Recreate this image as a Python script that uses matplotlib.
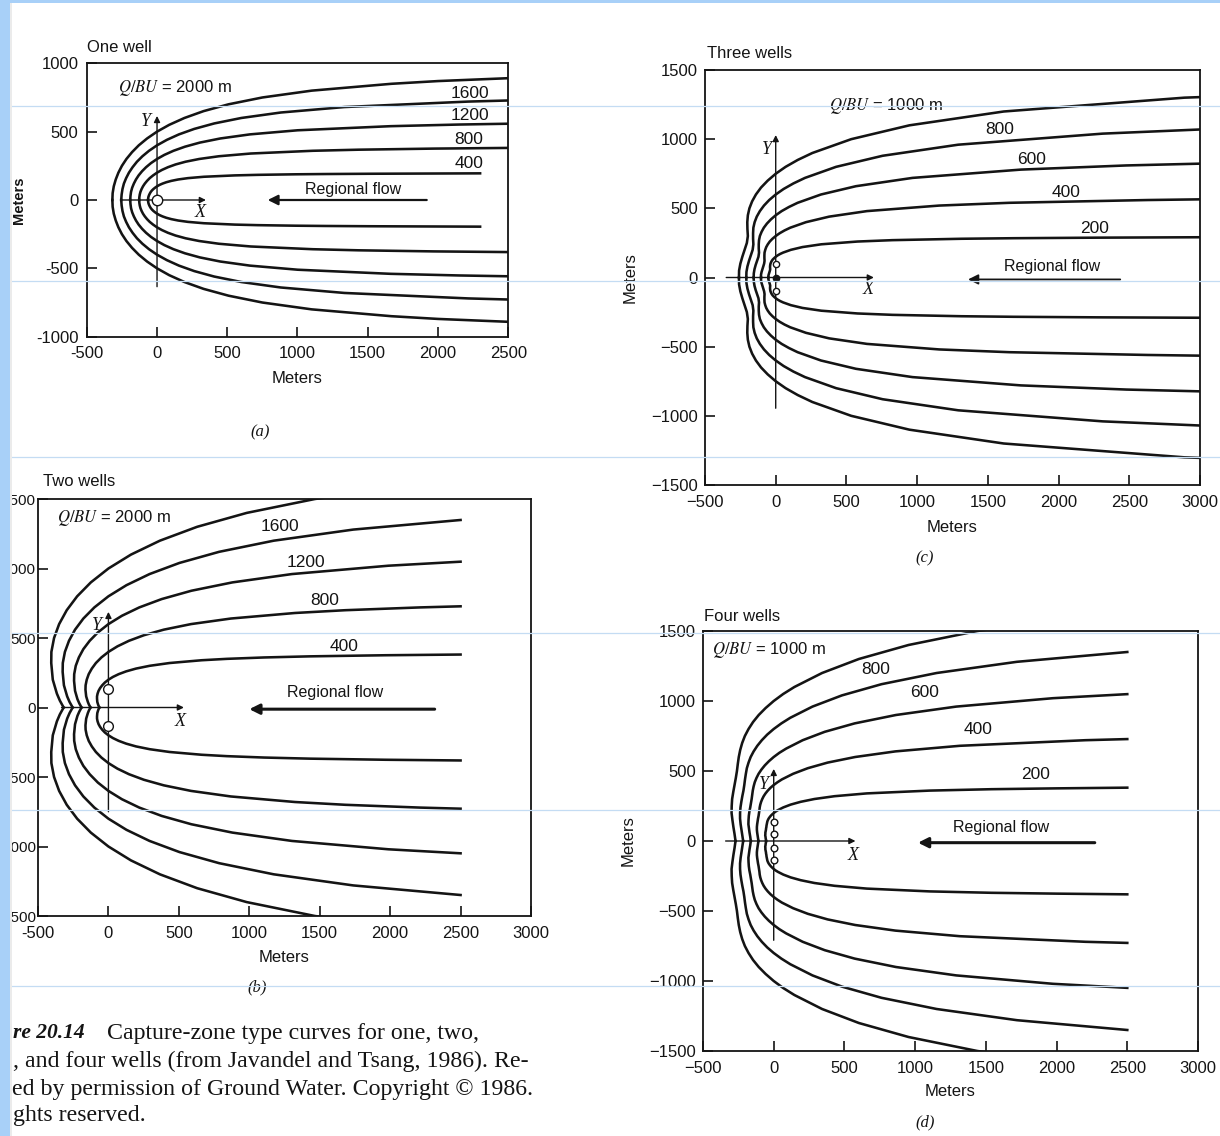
import matplotlib
matplotlib.use("Agg")
import matplotlib.pyplot as plt
from matplotlib.patches import Rectangle
from matplotlib.lines import Line2D

plt.rcParams['font.family'] = ['Liberation Sans', 'DejaVu Sans']
plt.rcParams['mathtext.fontset'] = 'stix'

W, H = 1220, 1136
INK = '#141414'

# ---------------- data (upper halves of capture-zone boundaries, metres) -------------
# (a) one well
A_QBU = [2000, 1600, 1200, 800, 400]
A_X_2000 = [-318, -316, -308, -294, -275, -250, -218, -178, -130, -71, 0, 87, 195, 331, 509, 750, 1101, 1668, 2000, 2500]
A_Y_2000 = [0, 50, 100, 150, 200, 250, 300, 350, 400, 450, 500, 550, 600, 650, 700, 750, 800, 850, 870, 891]
A_X_1600 = [-255, -252, -246, -236, -220, -200, -174, -143, -104, -57, 0, 70, 156, 265, 407, 600, 881, 1334, 2216, 2500]
A_Y_1600 = [0, 40, 80, 120, 160, 200, 240, 280, 320, 360, 400, 440, 480, 520, 560, 600, 640, 680, 720, 728]
A_X_1200 = [-191, -189, -185, -177, -165, -150, -131, -107, -78, -43, 0, 52, 117, 199, 305, 450, 661, 1001, 1662, 2150, 2500]
A_Y_1200 = [0, 30, 60, 90, 120, 150, 180, 210, 240, 270, 300, 330, 360, 390, 420, 450, 480, 510, 540, 552, 558]
A_X_800 = [-127, -126, -123, -118, -110, -100, -87, -71, -52, -28, 0, 35, 78, 132, 203, 300, 440, 667, 1108, 1434, 1971, 2399, 2500]
A_Y_800 = [0, 20, 40, 60, 80, 100, 120, 140, 160, 180, 200, 220, 240, 260, 280, 300, 320, 340, 360, 368, 376, 380, 381]
A_X_400 = [-64, -63, -62, -59, -55, -50, -44, -36, -26, -14, 0, 17, 39, 66, 102, 150, 220, 334, 554, 717, 985, 1200, 1520, 2300]
A_Y_400 = [0, 10, 20, 30, 40, 50, 60, 70, 80, 90, 100, 110, 120, 130, 140, 150, 160, 170, 180, 184, 188, 190, 192, 195]
A_WELLS = [0]

# (b) two wells
B_X_2000 = [-318, -345, -366, -395, -406, -405, -386, -350, -296, -222, -125, 0, 160, 365, 630, 982, 1466, 2172]
B_Y_2000 = [0, 50, 100, 200, 320, 400, 500, 600, 700, 800, 900, 1000, 1100, 1200, 1300, 1400, 1500, 1600]
B_X_1600 = [-254, -276, -293, -316, -325, -324, -309, -280, -237, -178, -100, 0, 128, 292, 504, 786, 1173, 1738, 2500]
B_Y_1600 = [0, 40, 80, 160, 256, 320, 400, 480, 560, 640, 720, 800, 880, 960, 1040, 1120, 1200, 1280, 1349]
B_X_1200 = [-191, -207, -220, -237, -244, -243, -232, -210, -178, -133, -75, 0, 96, 219, 378, 589, 880, 1303, 1987, 2500]
B_Y_1200 = [0, 30, 60, 120, 192, 240, 300, 360, 420, 480, 540, 600, 660, 720, 780, 840, 900, 960, 1020, 1049]
B_X_800 = [-127, -138, -146, -158, -163, -162, -154, -140, -118, -89, -50, 0, 64, 146, 252, 393, 586, 869, 1325, 1682, 2210, 2500]
B_Y_800 = [0, 20, 40, 80, 128, 160, 200, 240, 280, 320, 360, 400, 440, 480, 520, 560, 600, 640, 680, 700, 720, 728]
B_X_400 = [-64, -69, -73, -79, -81, -81, -77, -70, -59, -44, -25, 0, 32, 73, 126, 196, 293, 434, 662, 841, 1105, 1430, 1969, 2500]
B_Y_400 = [0, 10, 20, 40, 64, 80, 100, 120, 140, 160, 180, 200, 220, 240, 260, 280, 300, 320, 340, 350, 360, 368, 376, 381]
B_WELLS = [130, -130]

# (c) three wells
C_X_1000 = [-260, -259, -250, -236, -220, -204, -197, -200, -201, -197, -186, -167, -140, -104, -57, 0, 70, 156, 259, 534, 945, 1612, 2890, 3000]
C_Y_1000 = [0, 50, 100, 150, 200, 250, 300, 350, 400, 450, 500, 550, 600, 650, 700, 750, 800, 850, 900, 1000, 1100, 1200, 1300, 1304]
C_X_800 = [-208, -207, -200, -189, -176, -163, -158, -160, -160, -158, -149, -134, -112, -83, -46, 0, 56, 125, 207, 427, 756, 1290, 2312, 3000]
C_Y_800 = [0, 40, 80, 120, 160, 200, 240, 280, 320, 360, 400, 440, 480, 520, 560, 600, 640, 680, 720, 800, 880, 960, 1040, 1070]
C_X_600 = [-156, -155, -150, -142, -132, -122, -118, -120, -120, -118, -112, -100, -84, -62, -34, 0, 42, 94, 155, 320, 567, 967, 1734, 2478, 3000]
C_Y_600 = [0, 30, 60, 90, 120, 150, 180, 210, 240, 270, 300, 330, 360, 390, 420, 450, 480, 510, 540, 600, 660, 720, 780, 810, 823]
C_X_400 = [-104, -104, -100, -94, -88, -82, -79, -80, -80, -79, -74, -67, -56, -42, -23, 0, 28, 62, 103, 214, 378, 645, 1156, 1652, 2628, 3000]
C_Y_400 = [0, 20, 40, 60, 80, 100, 120, 140, 160, 180, 200, 220, 240, 260, 280, 300, 320, 340, 360, 400, 440, 480, 520, 540, 560, 565]
C_X_200 = [-52, -52, -50, -47, -44, -41, -39, -40, -40, -39, -37, -33, -28, -21, -11, 0, 14, 31, 52, 107, 189, 322, 578, 826, 1314, 1680, 2280, 2760, 3000]
C_Y_200 = [0, 10, 20, 30, 40, 50, 60, 70, 80, 90, 100, 110, 120, 130, 140, 150, 160, 170, 180, 200, 220, 240, 260, 270, 280, 284, 288, 290, 291]
C_WELLS = [95, -95]
C_CENTER_WELL = [0]

# (d) four wells
D_X_1000 = [-270, -277, -285, -292, -298, -297, -294, -286, -277, -268, -260, -254, -247, -237, -223, -204, -178, -146, -106, -57, 0, 67, 146, 342, 602, 953, 1440, 2150]
D_Y_1000 = [0, 50, 100, 150, 200, 250, 300, 350, 400, 450, 500, 550, 600, 650, 700, 750, 800, 850, 900, 950, 1000, 1050, 1100, 1200, 1300, 1400, 1500, 1600]
D_X_800 = [-216, -222, -228, -234, -238, -238, -235, -229, -222, -214, -208, -203, -197, -190, -178, -163, -142, -116, -84, -46, 0, 54, 117, 274, 482, 762, 1152, 1720, 2500]
D_Y_800 = [0, 40, 80, 120, 160, 200, 240, 280, 320, 360, 400, 440, 480, 520, 560, 600, 640, 680, 720, 760, 800, 840, 880, 960, 1040, 1120, 1200, 1280, 1350]
D_X_600 = [-162, -166, -171, -175, -179, -178, -176, -172, -166, -161, -156, -152, -148, -142, -134, -122, -107, -87, -63, -34, 0, 40, 88, 205, 361, 572, 864, 1290, 1974, 2500]
D_Y_600 = [0, 30, 60, 90, 120, 150, 180, 210, 240, 270, 300, 330, 360, 390, 420, 450, 480, 510, 540, 570, 600, 630, 660, 720, 780, 840, 900, 960, 1020, 1049]
D_X_400 = [-108, -111, -114, -117, -119, -119, -117, -114, -111, -107, -104, -101, -99, -95, -89, -81, -71, -58, -42, -23, 0, 27, 58, 137, 241, 381, 576, 860, 1316, 2204, 2500]
D_Y_400 = [0, 20, 40, 60, 80, 100, 120, 140, 160, 180, 200, 220, 240, 260, 280, 300, 320, 340, 360, 380, 400, 420, 440, 480, 520, 560, 600, 640, 680, 720, 728]
D_X_200 = [-54, -55, -57, -58, -60, -59, -59, -57, -55, -54, -52, -51, -49, -47, -45, -41, -36, -29, -21, -11, 0, 13, 29, 68, 120, 191, 288, 430, 658, 1102, 1540, 2000, 2500]
D_Y_200 = [0, 10, 20, 30, 40, 50, 60, 70, 80, 90, 100, 110, 120, 130, 140, 150, 160, 170, 180, 190, 200, 210, 220, 240, 260, 280, 300, 320, 340, 360, 370, 376, 381]
D_WELLS = [135, 50, -50, -135]

# tick labels
A_XTICKS = [-500, 0, 500, 1000, 1500, 2000, 2500]
A_XTICKLABELS = ['-500', '0', '500', '1000', '1500', '2000', '2500']
A_YTICKS = [-1000, -500, 0, 500, 1000]
A_YTICKLABELS = ['-1000', '-500', '0', '500', '1000']
B_XTICKS = [-500, 0, 500, 1000, 1500, 2000, 2500, 3000]
B_XTICKLABELS = ['-500', '0', '500', '1000', '1500', '2000', '2500', '3000']
B_YTICKS = [-1500, -1000, -500, 0, 500, 1000, 1500]
B_YTICKLABELS = ['-1500', '-1000', '-500', '0', '500', '1000', '1500']
CD_XTICKS = [-500, 0, 500, 1000, 1500, 2000, 2500, 3000]
CD_XTICKLABELS = ['\u2212500', '0', '500', '1000', '1500', '2000', '2500', '3000']
CD_YTICKS = [-1500, -1000, -500, 0, 500, 1000, 1500]
CD_YTICKLABELS = ['\u22121500', '\u22121000', '\u2212500', '0', '500', '1000', '1500']

# curve labels (text, x, y)
A_LABELS = [('1600', 2225, 780), ('1200', 2225, 615), ('800', 2222, 439), ('400', 2222, 268)]
B_LABELS = [('1600', 1215, 1299), ('1200', 1400, 1040), ('800', 1532, 771), ('400', 1671, 440)]
C_LABELS = [('800', 1587, 1067), ('600', 1810, 855), ('400', 2050, 614), ('200', 2251, 354)]
D_LABELS = [('800', 719, 1223), ('600', 1070, 1058), ('400', 1444, 797), ('200', 1851, 476)]

# ---------------- figure ---------------------------------------------------------------
fig = plt.figure(figsize=(W / 100, H / 100), dpi=100)
fig.patch.set_facecolor('white')


def fx(x):
    return x / W


def fy(y):
    return 1 - y / H


def panel(rect, xlim, ylim, xt, xtl, yt, ytl, curves, ypad=5, ylabsize=12):
    l, r, t, b = rect
    ax = fig.add_axes([l / W, 1 - b / H, (r - l) / W, (b - t) / H])
    ax.set_xlim(*xlim)
    ax.set_ylim(*ylim)
    for xs, ys in curves:
        ax.plot(xs, ys, color=INK, lw=1.85, solid_joinstyle='round', zorder=3)
        ax.plot(xs, [-v for v in ys], color=INK, lw=1.85, solid_joinstyle='round', zorder=3)
    ax.set_xticks(xt, xtl)
    ax.set_yticks(yt, ytl)
    ax.tick_params(direction='in', length=7, width=1.2, top=False, right=False,
                   labelsize=12, colors=INK)
    ax.tick_params(axis='x', pad=7)
    ax.tick_params(axis='y', pad=ypad, labelsize=ylabsize)
    for s in ax.spines.values():
        s.set_linewidth(1.3)
        s.set_color(INK)
    return ax


def axis_arrows(ax, x0, x1, y0, y1, xlab, ylab):
    ap = dict(arrowstyle='-|>', color=INK, lw=1.0, mutation_scale=9, shrinkA=0, shrinkB=0)
    ax.annotate('', xy=(x1, 0), xytext=(x0, 0), arrowprops=ap, zorder=4)
    ax.annotate('', xy=(0, y1), xytext=(0, y0), arrowprops=ap, zorder=4)
    ax.text(xlab[0], xlab[1], 'X', family='Liberation Serif', style='italic', fontsize=13,
            ha='center', va='center', color=INK)
    ax.text(ylab[0], ylab[1], 'Y', family='Liberation Serif', style='italic', fontsize=13,
            ha='center', va='center', color=INK)


def regional(ax, tx, ty, x_tail, x_tip, ya, lw=1.6):
    ax.text(tx, ty, 'Regional flow', fontsize=11.5, ha='center', va='center', color=INK)
    ax.annotate('', xy=(x_tip, ya), xytext=(x_tail, ya),
                arrowprops=dict(arrowstyle='-|>', color=INK, lw=lw, mutation_scale=15,
                                shrinkA=0, shrinkB=0), zorder=4)


def curve_labels(ax, labels):
    for s, x, y in labels:
        ax.text(x, y, s, fontsize=12.5, ha='center', va='center', color=INK)


def wells(ax, ys, ms, filled=False):
    ax.plot([0] * len(ys), ys, 'o', mfc=INK if filled else 'white', mec=INK,
            ms=ms, mew=1.0, zorder=6, clip_on=False)


# (a)
axa = panel((86.8, 508.2, 63.3, 336.7), (-500, 2500), (-1000, 1000),
            A_XTICKS, A_XTICKLABELS, A_YTICKS, A_YTICKLABELS,
            [(A_X_2000, A_Y_2000), (A_X_1600, A_Y_1600), (A_X_1200, A_Y_1200),
             (A_X_800, A_Y_800), (A_X_400, A_Y_400)], ypad=6)
axis_arrows(axa, -254, 348, -634, 615, (305, -93), (-76, 573))
wells(axa, A_WELLS, 7.5)
regional(axa, 1398, 80, 1920, 788, 0)
curve_labels(axa, A_LABELS)
axa.text(-280, 817, r'$Q/BU$ = 2000 m', fontsize=12, ha='left', va='center', color=INK)

# (b)
axb = panel((38, 531, 499, 916), (-500, 3000), (-1500, 1500),
            B_XTICKS, B_XTICKLABELS, B_YTICKS, B_YTICKLABELS,
            [(B_X_2000, B_Y_2000), (B_X_1600, B_Y_1600), (B_X_1200, B_Y_1200),
             (B_X_800, B_Y_800), (B_X_400, B_Y_400)], ypad=1.5, ylabsize=11)
axis_arrows(axb, -333, 536, -750, 688, (512, -103), (-83, 592))
wells(axb, B_WELLS, 7)
regional(axb, 1608, 109, 2316, 1000, -12, lw=2.2)
curve_labels(axb, B_LABELS)
axb.text(-367, 1366, r'$Q/BU$ = 2000 m', fontsize=12, ha='left', va='center', color=INK)

# (c)
axc = panel((705, 1200, 70, 485), (-500, 3000), (-1500, 1500),
            CD_XTICKS, CD_XTICKLABELS, CD_YTICKS, CD_YTICKLABELS,
            [(C_X_1000, C_Y_1000), (C_X_800, C_Y_800), (C_X_600, C_Y_600),
             (C_X_400, C_Y_400), (C_X_200, C_Y_200)], ypad=5)
axis_arrows(axc, -350, 694, -945, 1030, (651, -84), (-62, 924))
wells(axc, C_WELLS, 4.5)
wells(axc, C_CENTER_WELL, 4.5, filled=True)
regional(axc, 1955, 80, 2436, 1360, -14, lw=1.3)
curve_labels(axc, C_LABELS)
axc.text(377, 1241, r'$Q/BU$ = 1000 m', fontsize=12, ha='left', va='center', color=INK)

# (d)
axd = panel((703, 1198, 631, 1051), (-500, 3000), (-1500, 1500),
            CD_XTICKS, CD_XTICKLABELS, CD_YTICKS, CD_YTICKLABELS,
            [(D_X_1000, D_Y_1000), (D_X_800, D_Y_800), (D_X_600, D_Y_600),
             (D_X_400, D_Y_400), (D_X_200, D_Y_200)], ypad=5)
axis_arrows(axd, -340, 578, -709, 515, (561, -100), (-71, 406))
wells(axd, D_WELLS, 4.8)
regional(axd, 1604, 93, 2270, 1020, -12, lw=2.2)
curve_labels(axd, D_LABELS)
axd.text(-433, 1366, r'$Q/BU$ = 1000 m', fontsize=12, ha='left', va='center', color=INK)

# titles, axis titles, panel letters
for s, x, y in [('One well', 87, 47), ('Three wells', 707, 53), ('Two wells', 43, 482),
                ('Four wells', 704, 616)]:
    fig.text(fx(x), fy(y), s, fontsize=12, ha='left', va='center', color=INK)
for x, y in [(297.5, 378), (284.5, 957), (952.5, 527), (950.5, 1092)]:
    fig.text(fx(x), fy(y), 'Meters', fontsize=12, ha='center', va='center', color=INK)
fig.text(fx(18.5), fy(200), 'Meters', fontsize=10.5, rotation=90, ha='center', va='center',
         color=INK, weight='bold', zorder=30)
for x, y in [(630, 278), (628, 841)]:
    fig.text(fx(x), fy(y), 'Meters', fontsize=12, rotation=90, ha='center', va='center', color=INK)
for s, x, y in [('(a)', 260, 432), ('(b)', 257, 987), ('(c)', 925, 558), ('(d)', 925, 1122)]:
    fig.text(fx(x), fy(y), s, fontsize=12, family='Liberation Serif', style='italic',
             ha='center', va='center', color=INK)

# caption
SER = 'Liberation Serif'
CAP = 17.2
fig.text(fx(13), fy(1033), 're 20.14', fontsize=15.5, family=SER, style='italic',
         weight='bold', ha='left', va='center', color=INK)
fig.text(fx(107), fy(1033), 'Capture-zone type curves for one, two,', fontsize=CAP,
         family=SER, ha='left', va='center', color=INK)
fig.text(fx(13), fy(1061), ', and four wells (from Javandel and Tsang, 1986). Re-',
         fontsize=CAP, family=SER, ha='left', va='center', color=INK)
fig.text(fx(12), fy(1089), 'ed by permission of Ground Water. Copyright \u00a9 1986.',
         fontsize=CAP, family=SER, ha='left', va='center', color=INK)
fig.text(fx(13), fy(1116), 'ghts reserved.', fontsize=CAP, family=SER,
         ha='left', va='center', color=INK)

# faint slide guide lines and blue border strips
for y in [106, 281, 457, 633, 810, 986]:
    fig.add_artist(Line2D([0, 1], [fy(y), fy(y)], transform=fig.transFigure,
                          color='#c4dcf3', lw=0.9, zorder=10))
fig.add_artist(Rectangle((0, 0), 10 / W, 1, transform=fig.transFigure,
                         facecolor='#a8d0f8', edgecolor='none', zorder=20))
fig.add_artist(Rectangle((10 / W, 0), 2 / W, 1, transform=fig.transFigure,
                         facecolor='#ebebeb', edgecolor='none', zorder=19))
fig.add_artist(Rectangle((0, 1 - 3 / H), 1, 3 / H, transform=fig.transFigure,
                         facecolor='#a8d0f8', edgecolor='none', zorder=20))

fig.savefig('out.png', dpi=100, facecolor='white')
